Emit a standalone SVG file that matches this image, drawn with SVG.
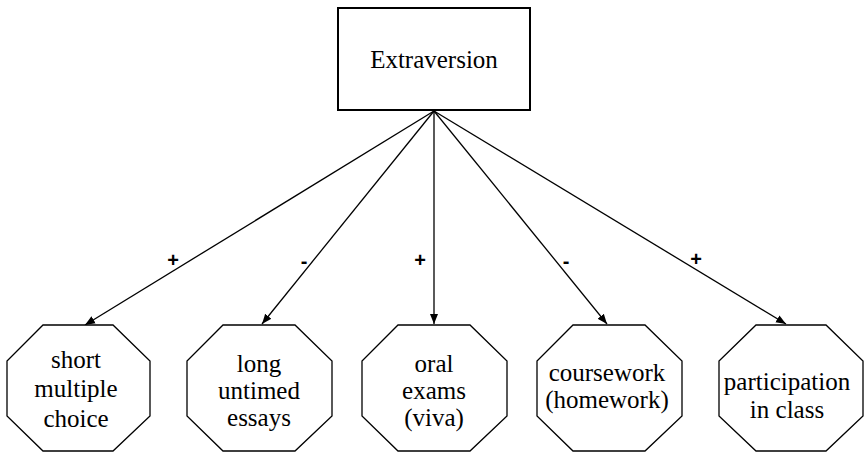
<svg xmlns="http://www.w3.org/2000/svg" width="865" height="452" viewBox="0 0 865 452">
<defs>
<marker id="ah" viewBox="0 0 10 10" refX="10" refY="5" markerWidth="10" markerHeight="10" markerUnits="userSpaceOnUse" orient="auto">
<path d="M0,1 L10,5 L0,9 Z" fill="#000"/>
</marker>
</defs>
<style>
.box{fill:#fff;stroke:#000;stroke-width:2}
.oct{fill:#fff;stroke:#000;stroke-width:1.3}
.t{font-family:"Liberation Serif","Times New Roman",serif;font-size:25px;fill:#000;text-anchor:middle}
.e{stroke:#000;stroke-width:1.3;fill:none;marker-end:url(#ah)}
.s{font-family:"Liberation Sans",Arial,sans-serif;font-size:20px;font-weight:bold;fill:#000;text-anchor:middle}
</style>
<rect width="865" height="452" fill="#fff"/>
<g id="extraversion">
<rect class="box" x="338" y="8" width="192" height="102"/>
<text class="t" x="434" y="68">Extraversion</text>
</g>
<g id="connectors">
<line class="e" x1="434" y1="111" x2="85" y2="325"/>
<line class="e" x1="434" y1="111" x2="262" y2="324"/>
<line class="e" x1="434" y1="111" x2="434" y2="324"/>
<line class="e" x1="434" y1="111" x2="607" y2="324"/>
<line class="e" x1="434" y1="111" x2="786" y2="324"/>
<text class="s" x="173" y="267">+</text>
<text class="s" x="304" y="268">-</text>
<text class="s" x="420" y="267">+</text>
<text class="s" x="566" y="268">-</text>
<text class="s" x="696" y="266">+</text>
</g>
<g id="short-multiple-choice">
<polygon class="oct" points="43,325 113,325 150,361 150,416 113,451 43,451 7,416 7,361"/>
<text class="t" x="76" y="368">short</text>
<text class="t" x="76" y="397">multiple</text>
<text class="t" x="76" y="427">choice</text>
</g>
<g id="long-untimed-essays">
<polygon class="oct" points="223,325 295,325 332,361 332,416 295,451 223,451 187,416 187,361"/>
<text class="t" x="259" y="372">long</text>
<text class="t" x="259" y="399">untimed</text>
<text class="t" x="259" y="426">essays</text>
</g>
<g id="oral-exams">
<polygon class="oct" points="398,325 470,325 507,361 507,416 470,451 398,451 362,416 362,361"/>
<text class="t" x="434" y="372">oral</text>
<text class="t" x="434" y="399">exams</text>
<text class="t" x="434" y="426">(viva)</text>
</g>
<g id="coursework">
<polygon class="oct" points="573,325 645,325 682,361 682,416 645,451 573,451 537,416 537,361"/>
<text class="t" x="607" y="381">coursework</text>
<text class="t" x="607" y="408">(homework)</text>
</g>
<g id="participation">
<polygon class="oct" points="756,325 826,325 863,361 863,416 826,451 756,451 719,416 719,361"/>
<text class="t" x="787" y="390">participation</text>
<text class="t" x="787" y="418">in class</text>
</g>
</svg>
